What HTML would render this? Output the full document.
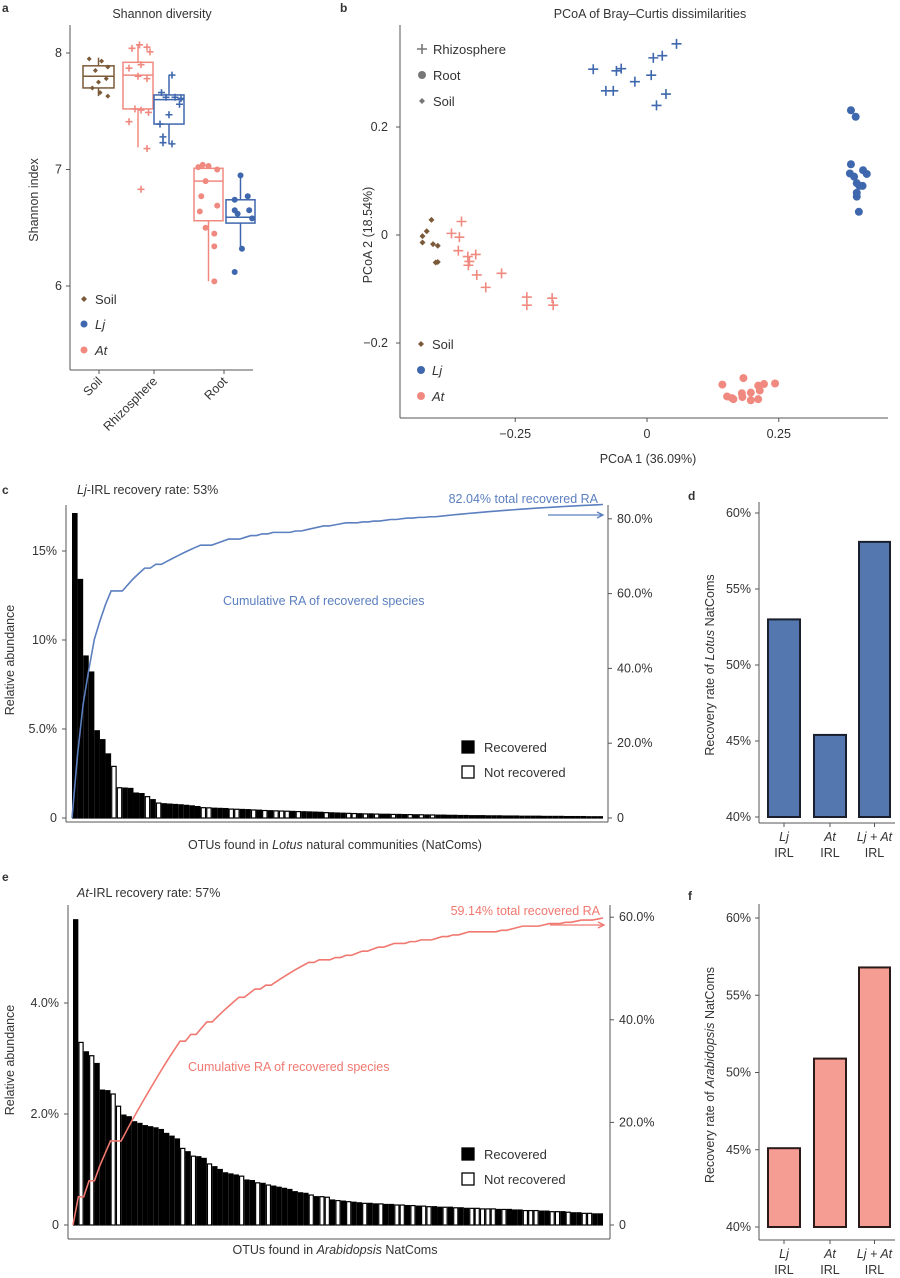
<!DOCTYPE html>
<html><head><meta charset="utf-8">
<style>
body{margin:0;background:#fff;}
svg{display:block;font-family:"Liberation Sans",sans-serif;}
text{fill:#333;}
</style></head>
<body>
<svg id="fig" width="900" height="1278" viewBox="0 0 900 1278" xmlns="http://www.w3.org/2000/svg">
<g id="static">
<text x="2" y="12" font-size="12" font-weight="bold" fill="#111">a</text>
<text x="162" y="18" font-size="12.5" text-anchor="middle">Shannon diversity</text>
<text transform="translate(38,200) rotate(-90)" font-size="12.5" text-anchor="middle">Shannon index</text>
<text x="340" y="12" font-size="12" font-weight="bold" fill="#111">b</text>
<text x="650" y="18" font-size="12.5" text-anchor="middle">PCoA of Bray–Curtis dissimilarities</text>
<text transform="translate(372,235) rotate(-90)" font-size="12.5" text-anchor="middle">PCoA 2 (18.54%)</text>
<text x="648" y="463" font-size="12.5" text-anchor="middle">PCoA 1 (36.09%)</text>
<text x="2" y="494" font-size="12" font-weight="bold" fill="#111">c</text>
<text x="77" y="494" font-size="12.5"><tspan font-style="italic">Lj</tspan>-IRL recovery rate: 53%</text>
<text x="598" y="503" font-size="12.5" text-anchor="end" fill="#5b7fbf" style="fill:#5b7fbf">82.04% total recovered RA</text>
<text x="223" y="605" font-size="12.5" style="fill:#5b7fbf">Cumulative RA of recovered species</text>
<text transform="translate(14,660) rotate(-90)" font-size="12.5" text-anchor="middle">Relative abundance</text>
<text x="335" y="849" font-size="12.5" text-anchor="middle">OTUs found in <tspan font-style="italic">Lotus</tspan> natural communities (NatComs)</text>
<text x="688" y="500" font-size="12" font-weight="bold" fill="#111">d</text>
<text transform="translate(714,665) rotate(-90)" font-size="12.5" text-anchor="middle">Recovery rate of <tspan font-style="italic">Lotus</tspan> NatComs</text>
<text x="2" y="881" font-size="12" font-weight="bold" fill="#111">e</text>
<text x="77" y="897" font-size="12.5"><tspan font-style="italic">At</tspan>-IRL recovery rate: 57%</text>
<text x="600" y="915" font-size="12.5" text-anchor="end" style="fill:#f07870">59.14% total recovered RA</text>
<text x="188" y="1071" font-size="12.5" style="fill:#f07870">Cumulative RA of recovered species</text>
<text transform="translate(14,1060) rotate(-90)" font-size="12.5" text-anchor="middle">Relative abundance</text>
<text x="335" y="1254" font-size="12.5" text-anchor="middle">OTUs found in <tspan font-style="italic">Arabidopsis</tspan> NatComs</text>
<text x="688" y="900" font-size="12" font-weight="bold" fill="#111">f</text>
<text transform="translate(714,1075) rotate(-90)" font-size="12.5" text-anchor="middle">Recovery rate of <tspan font-style="italic">Arabidopsis</tspan> NatComs</text>
</g>
</svg>
<script>
// ---------- Panel a data ----------
const aTicks=[6,7,8];
const aCats=["Soil","Rhizosphere","Root"];
const aBoxes=[ // [cat, group, lowWhisk, q1, med, q3, highWhisk]
 [0,"soil",7.63,7.70,7.80,7.89,7.96],
 [1,"at",7.19,7.52,7.81,7.92,8.07],
 [1,"lj",7.22,7.39,7.60,7.64,7.81],
 [2,"at",6.04,6.56,6.90,7.01,7.04],
 [2,"lj",6.32,6.54,6.59,6.74,6.95]];
const aSoilPts=[[7.95,-0.3],[7.93,0.1],[7.88,0.3],[7.85,-0.1],[7.78,0.25],[7.75,0],[7.70,-0.2],[7.66,0.05],[7.63,0.3]];
const aRhAtPts=[[8.07,0.05],[8.05,0.3],[8.04,-0.2],[8.01,0.4],[7.90,0.1],[7.87,-0.3],[7.80,0],[7.78,0.3],[7.52,-0.1],[7.51,0.1],[7.49,0.35],[7.41,-0.3],[7.18,0.3],[6.83,0.1]];
const aRhLjPts=[[7.81,0.1],[7.66,-0.25],[7.62,-0.1],[7.62,0.2],[7.61,0.4],[7.56,0.35],[7.47,0],[7.39,-0.3],[7.28,-0.2],[7.23,-0.2],[7.22,0.1]];
const aRtAtPts=[[7.04,-0.2],[7.03,0],[7.02,-0.35],[7.0,0.3],[6.9,-0.1],[6.77,-0.25],[6.69,0.3],[6.64,-0.3],[6.5,-0.1],[6.45,0.2],[6.34,0.2],[6.04,0.2]];
const aRtLjPts=[[6.95,0],[6.77,0.25],[6.74,-0.2],[6.65,-0.2],[6.65,0.3],[6.62,-0.1],[6.58,0.4],[6.32,0.05],[6.12,-0.2]];
// ---------- Panel b data ----------
const bXTicks=[-0.25,0,0.25];
const bYTicks=[-0.2,0,0.2];
const bLjRhizo=[[-0.102,0.307],[-0.058,0.304],[-0.049,0.308],[-0.023,0.284],[0.008,0.296],[0.012,0.328],[0.029,0.332],[0.056,0.354],[-0.078,0.267],[-0.064,0.267],[0.036,0.261],[0.018,0.240]];
const bLjRoot=[[0.387,0.231],[0.396,0.219],[0.387,0.131],[0.385,0.114],[0.393,0.108],[0.410,0.120],[0.417,0.113],[0.398,0.096],[0.409,0.091],[0.403,0.091],[0.398,0.078],[0.398,0.071],[0.402,0.043]];
const bAtRoot=[[0.143,-0.277],[0.183,-0.265],[0.152,-0.299],[0.164,-0.304],[0.180,-0.293],[0.181,-0.300],[0.197,-0.292],[0.197,-0.306],[0.211,-0.279],[0.222,-0.276],[0.214,-0.288],[0.211,-0.304],[0.243,-0.275],[0.161,-0.302]];
const bAtRhizo=[[-0.352,0.025],[-0.371,0.003],[-0.356,-0.004],[-0.358,-0.029],[-0.340,-0.040],[-0.325,-0.036],[-0.337,-0.049],[-0.339,-0.056],[-0.323,-0.074],[-0.276,-0.071],[-0.306,-0.097],[-0.228,-0.115],[-0.228,-0.130],[-0.180,-0.117],[-0.178,-0.130]];
const bSoil=[[-0.409,0.028],[-0.418,0.007],[-0.426,-0.002],[-0.426,-0.014],[-0.406,-0.017],[-0.397,-0.020],[-0.401,-0.051],[-0.397,-0.050]];
// ---------- Panel c data ----------
const cValues=[17.1,13.4,9.1,8.2,4.9,4.4,3.6,2.9,1.7,1.68,1.66,1.4,1.37,1.2,1.03,0.84,0.80,0.78,0.76,0.74,0.71,0.68,0.64,0.58,0.57,0.55,0.54,0.53,0.50,0.49,0.48,0.47,0.45,0.44,0.42,0.41,0.40,0.39,0.38,0.37,0.36,0.35,0.34,0.33,0.32,0.30,0.29,0.28,0.27,0.26,0.25,0.24,0.23,0.23,0.22,0.21,0.21,0.20,0.20,0.19,0.19,0.18,0.18,0.17,0.17,0.16,0.16,0.15,0.15,0.14,0.14,0.13,0.13,0.13,0.12,0.12,0.12,0.11,0.11,0.11,0.10,0.10,0.10,0.10,0.09,0.09,0.09,0.09,0.08,0.08,0.08,0.08,0.07,0.07,0.07];
const cRecovered=[1,1,1,1,1,1,1,0,0,1,1,1,1,0,1,0,1,1,1,1,1,1,1,0,0,1,1,1,0,0,1,1,0,1,0,1,0,0,0,1,0,1,1,1,1,0,1,1,1,0,0,1,0,1,0,1,1,0,1,1,0,1,0,1,0,1,1,1,1,1,1,1,1,1,1,1,1,1,1,1,1,1,1,1,1,1,1,1,1,1,1,1,1,1,1];
const cLeftTicks=[0,5,10,15];
const cLeftLabels=["0","5.0%","10%","15%"];
const cRightTicks=[0,20,40,60,80];
const cRightLabels=["0","20.0%","40.0%","60.0%","80.0%"];
// ---------- Panel d data ----------
const dCats=[["Lj","IRL"],["At","IRL"],["Lj + At","IRL"]];
const dValues=[53.0,45.4,58.1];
const dTicks=[40,45,50,55,60];
// ---------- Panel e data ----------
const eValues=[5.5,3.29,3.12,3.05,2.91,2.43,2.42,2.36,2.14,1.98,1.95,1.86,1.83,1.79,1.77,1.75,1.72,1.65,1.60,1.55,1.38,1.32,1.24,1.23,1.20,1.10,1.05,1.00,0.94,0.92,0.90,0.88,0.81,0.80,0.76,0.75,0.72,0.70,0.68,0.66,0.64,0.60,0.58,0.57,0.54,0.51,0.51,0.50,0.45,0.44,0.43,0.42,0.41,0.40,0.39,0.39,0.38,0.38,0.37,0.37,0.36,0.36,0.35,0.35,0.34,0.34,0.33,0.33,0.32,0.32,0.32,0.31,0.31,0.30,0.30,0.30,0.29,0.29,0.29,0.28,0.28,0.28,0.27,0.27,0.26,0.26,0.26,0.25,0.25,0.24,0.24,0.24,0.23,0.22,0.22,0.21,0.21,0.20,0.20];
const eRecovered=[1,0,1,0,1,1,1,0,0,1,1,1,1,1,1,1,1,1,1,1,0,1,0,1,1,0,1,1,1,1,1,0,1,1,0,1,0,1,1,1,1,1,1,1,0,1,0,0,1,0,1,0,1,1,0,1,1,0,1,1,0,0,1,0,1,0,0,1,1,0,1,0,1,1,0,0,0,0,0,1,0,1,1,1,0,0,0,1,1,0,0,1,0,1,1,0,0,1,1];
const eLeftTicks=[0,2,4];
const eLeftLabels=["0","2.0%","4.0%"];
const eRightTicks=[0,20,40,60];
const eRightLabels=["0","20.0%","40.0%","60.0%"];
// ---------- Panel f data ----------
const fCats=[["Lj","IRL"],["At","IRL"],["Lj + At","IRL"]];
const fValues=[45.1,50.9,56.8];
const fTicks=[40,45,50,55,60];

const NS="http://www.w3.org/2000/svg";
const svg=document.getElementById('fig');
function mk(tag,attrs,parent){const e=document.createElementNS(NS,tag);for(const k in attrs)e.setAttribute(k,attrs[k]);(parent||svg).appendChild(e);return e;}
function txt(s,attrs,parent){const e=mk('text',attrs,parent);e.textContent=s;return e;}
const AX="#555", BLUE="#3f67ad", PINK="#f08a80", BROWN="#7a5a38";
const colOf={soil:BROWN,lj:BLUE,at:PINK};

// ===== Panel a =====
const ay=v=>53+(8-v)*116.5;
const acx=[99,154,224];
const gA=mk('g',{});

let l=mk('line',{x1:70,y1:25,x2:70,y2:370,stroke:AX,'stroke-width':1},gA);

l=mk('line',{x1:70,y1:370,x2:253,y2:370,stroke:AX,'stroke-width':1},gA);

aTicks.forEach(t=>{mk('line',{x1:66,x2:70,y1:ay(t),y2:ay(t),stroke:AX},gA);
 const e=txt(String(t),{x:62,y:ay(t)+4,'font-size':12.5,'text-anchor':'end'},gA);
 });
aCats.forEach((c,i)=>{mk('line',{x1:acx[i],x2:acx[i],y1:370,y2:374,stroke:AX},gA);
 const e=txt(c,{transform:`translate(${acx[i]+4},${382}) rotate(-45)`,'font-size':12.5,'text-anchor':'end'},gA);
 });
const boxX=[[83,114],[123,153],[154,184],[194,223],[226,255]];
aBoxes.forEach((b,i)=>{const [x0,x1]=boxX[i];const c=colOf[b[1]];const xm=(x0+x1)/2;
 const g=mk('g',{},gA);
 mk('line',{x1:xm,x2:xm,y1:ay(b[6]),y2:ay(b[2]),stroke:c,'stroke-width':1.5},g);
 mk('rect',{x:x0,y:ay(b[5]),width:x1-x0,height:ay(b[3])-ay(b[5]),fill:'#fff',stroke:c,'stroke-width':1.5},g);
 mk('line',{x1:x0,x2:x1,y1:ay(b[4]),y2:ay(b[4]),stroke:c,'stroke-width':1.5},g);
});
function marker(type,x,y,c,s,parent){
 let e;
 if(type==='d'){e=mk('path',{d:`M${x} ${y-s}L${x+s} ${y}L${x} ${y+s}L${x-s} ${y}Z`,fill:c},parent);}
 else if(type==='c'){e=mk('circle',{cx:x,cy:y,r:s,fill:c},parent);}
 else {e=mk('path',{d:`M${x-s} ${y}H${x+s}M${x} ${y-s}V${y+s}`,stroke:c,'stroke-width':1.6,fill:'none'},parent);}
 return e;}
[[aSoilPts,0,'d',BROWN,2.5],[aRhAtPts,1,'p',PINK,3.5],[aRhLjPts,2,'p',BLUE,3.5],[aRtAtPts,3,'c',PINK,3],[aRtLjPts,4,'c',BLUE,3]].forEach(([pts,bi,tp,c,s])=>{
 const [x0,x1]=boxX[bi];const xm=(x0+x1)/2,w=x1-x0;
 pts.forEach(p=>{const e=marker(tp,xm+p[1]*w,ay(p[0]),c,s,gA);});});
[['Soil',BROWN,'d',299,false],['Lj',BLUE,'c',324,true],['At',PINK,'c',350,true]].forEach(([t,c,tp,y,it])=>{
 const g=mk('g',{},gA);
 marker(tp,84,y,c,tp==='d'?3:3.5,g);
 txt(t,{x:95,y:y+5,'font-size':13,'font-style':it?'italic':'normal'},g);});

// ===== Panel b =====
const bx=v=>647+v*527, by=v=>235-v*540;
const gB=mk('g',{});
l=mk('line',{x1:400,y1:25,x2:400,y2:418,stroke:AX},gB);
l=mk('line',{x1:400,y1:418,x2:888,y2:418,stroke:AX},gB);
bYTicks.forEach(t=>{mk('line',{x1:396,x2:400,y1:by(t),y2:by(t),stroke:AX},gB);
 const e=txt(t===0?'0':(t<0?'−':'')+Math.abs(t).toFixed(1),{x:388,y:by(t)+4,'font-size':12.5,'text-anchor':'end'},gB);
 });
bXTicks.forEach(t=>{mk('line',{x1:bx(t),x2:bx(t),y1:418,y2:422,stroke:AX},gB);
 const e=txt(t===0?'0':(t<0?'−':'')+Math.abs(t).toFixed(2),{x:bx(t),y:438,'font-size':12.5,'text-anchor':'middle'},gB);
 });
[[bLjRhizo,'p',BLUE,5],[bLjRoot,'c',BLUE,4],[bAtRoot,'c',PINK,4],[bAtRhizo,'p',PINK,5],[bSoil,'d',BROWN,3]].forEach(([pts,tp,c,s])=>{
 pts.forEach(p=>{const e=marker(tp,bx(p[0]),by(p[1]),c,s,gB);});});
[['Rhizosphere','p',49],['Root','c',75],['Soil','d',101]].forEach(([t,tp,y])=>{
 const g=mk('g',{},gB);
 marker(tp,422,y,'#777',tp==='p'?5:(tp==='c'?4:3),g);txt(t,{x:433,y:y+5,'font-size':13},g);});
[['Soil',BROWN,'d',344,false],['Lj',BLUE,'c',370,true],['At',PINK,'c',396,true]].forEach(([t,c,tp,y,it])=>{
 const g=mk('g',{},gB);
 marker(tp,421,y,c,tp==='d'?3:4,g);txt(t,{x:432,y:y+5,'font-size':13,'font-style':it?'italic':'normal'},g);});

// ===== Bar-abundance panels (c,e) =====
function abundance(o){
 const g=mk('g',{});
 const yl=v=>o.y0-v*o.lpx, yr=v=>o.y0-v*o.rpx;
 const n=o.values.length, bw=(o.xEnd-o.xStart)/n, xb=i=>o.xStart+i*bw;
 l=mk('line',{x1:o.xl,y1:o.top,x2:o.xl,y2:o.axisY,stroke:AX},g);
 l=mk('line',{x1:o.xr,y1:o.top,x2:o.xr,y2:o.axisY,stroke:AX},g);
 l=mk('line',{x1:o.xl,y1:o.axisY,x2:o.xr,y2:o.axisY,stroke:AX},g);
 o.lt.forEach((t,i)=>{mk('line',{x1:o.xl-4,x2:o.xl,y1:yl(t),y2:yl(t),stroke:AX},g);
  const e=txt(o.ll[i],{x:o.xl-9,y:yl(t)+4,'font-size':12.5,'text-anchor':'end'},g);});
 o.rt.forEach((t,i)=>{mk('line',{x1:o.xr,x2:o.xr+4,y1:yr(t),y2:yr(t),stroke:AX},g);
  const e=txt(o.rl[i],{x:o.xr+9,y:yr(t)+4,'font-size':12.5},g);});
 o.values.forEach((v,i)=>{const r=mk('rect',{x:xb(i)+0.6,y:yl(v),width:bw-1.2,height:o.y0-yl(v),fill:o.rec[i]?'#000':'#fff',stroke:'#000','stroke-width':1.2},g);
  });
 let cum=0;const pts=[[xb(0),yr(0)]];
 o.values.forEach((v,i)=>{if(o.rec[i])cum+=v;pts.push([xb(i+1),yr(cum)]);});
 const p=mk('polyline',{points:pts.map(q=>q.join(',')).join(' '),fill:'none',stroke:o.lineCol,'stroke-width':1.6},g);
 
 const a=mk('path',{d:`M${o.arrow[0]} ${o.arrow[2]}H${o.arrow[1]}M${o.arrow[1]-6} ${o.arrow[2]-3}L${o.arrow[1]} ${o.arrow[2]}L${o.arrow[1]-6} ${o.arrow[2]+3}`,stroke:o.lineCol,fill:'none','stroke-width':1.3},g);
 
 [['Recovered','#000',o.legY],['Not recovered','#fff',o.legY+25]].forEach(([t,f,y])=>{
  const lg=mk('g',{},g);
  mk('rect',{x:462,y:y-6,width:12,height:12,fill:f,stroke:'#000','stroke-width':1.3},lg);
  txt(t,{x:484,y:y+5,'font-size':13},lg);});
}
abundance({name:'panel-c-abundance',values:cValues,rec:cRecovered,xl:66,xr:608,top:505,axisY:822,y0:818,lpx:17.8,rpx:3.74,xStart:72,xEnd:603,
 lt:cLeftTicks,ll:cLeftLabels,rt:cRightTicks,rl:cRightLabels,lineCol:'#5b7fbf',arrow:[548,603,515],legY:747});
abundance({name:'panel-e-abundance',values:eValues,rec:eRecovered,xl:68,xr:610,top:905,axisY:1239,y0:1225,lpx:55.5,rpx:5.13,xStart:73,xEnd:603,
 lt:eLeftTicks,ll:eLeftLabels,rt:eRightTicks,rl:eRightLabels,lineCol:'#f07870',arrow:[550,604,925],legY:1154});

// ===== Recovery-rate panels (d,f) =====
function recov(o){
 const g=mk('g',{});
 const y=v=>o.y40-(v-40)*o.px;
 l=mk('line',{x1:759,y1:o.top,x2:759,y2:o.axisY,stroke:AX},g);
 l=mk('line',{x1:759,y1:o.axisY,x2:895,y2:o.axisY,stroke:AX},g);
 o.ticks.forEach(t=>{mk('line',{x1:755,x2:759,y1:y(t),y2:y(t),stroke:AX},g);
  const e=txt(t+'%',{x:751,y:y(t)+4,'font-size':12.5,'text-anchor':'end'},g);});
 const xs=[[768,800],[814,846],[859,890]];
 o.values.forEach((v,i)=>{const [x0,x1]=xs[i];
  const r=mk('rect',{x:x0,y:y(v),width:x1-x0,height:y(40)-y(v),fill:o.fill,stroke:o.stroke,'stroke-width':2},g);
  
  const xm=(x0+x1)/2;mk('line',{x1:xm,x2:xm,y1:o.axisY,y2:o.axisY+4,stroke:AX},g);
  const t1=txt(o.cats[i][0],{x:xm,y:o.axisY+18,'font-size':12.5,'font-style':'italic','text-anchor':'middle'},g);
  
  const t2=txt(o.cats[i][1],{x:xm,y:o.axisY+34,'font-size':12.5,'text-anchor':'middle'},g);
  });
}
recov({name:'panel-d-recovery',values:dValues,cats:dCats,ticks:dTicks,y40:817,px:15.2,top:502,axisY:823,fill:'#5577b0',stroke:'#1a1f2e'});
recov({name:'panel-f-recovery',values:fValues,cats:fCats,ticks:fTicks,y40:1227,px:15.45,top:904,axisY:1240,fill:'#f59d93',stroke:'#2a1a1a'});
</script>
</body></html>
